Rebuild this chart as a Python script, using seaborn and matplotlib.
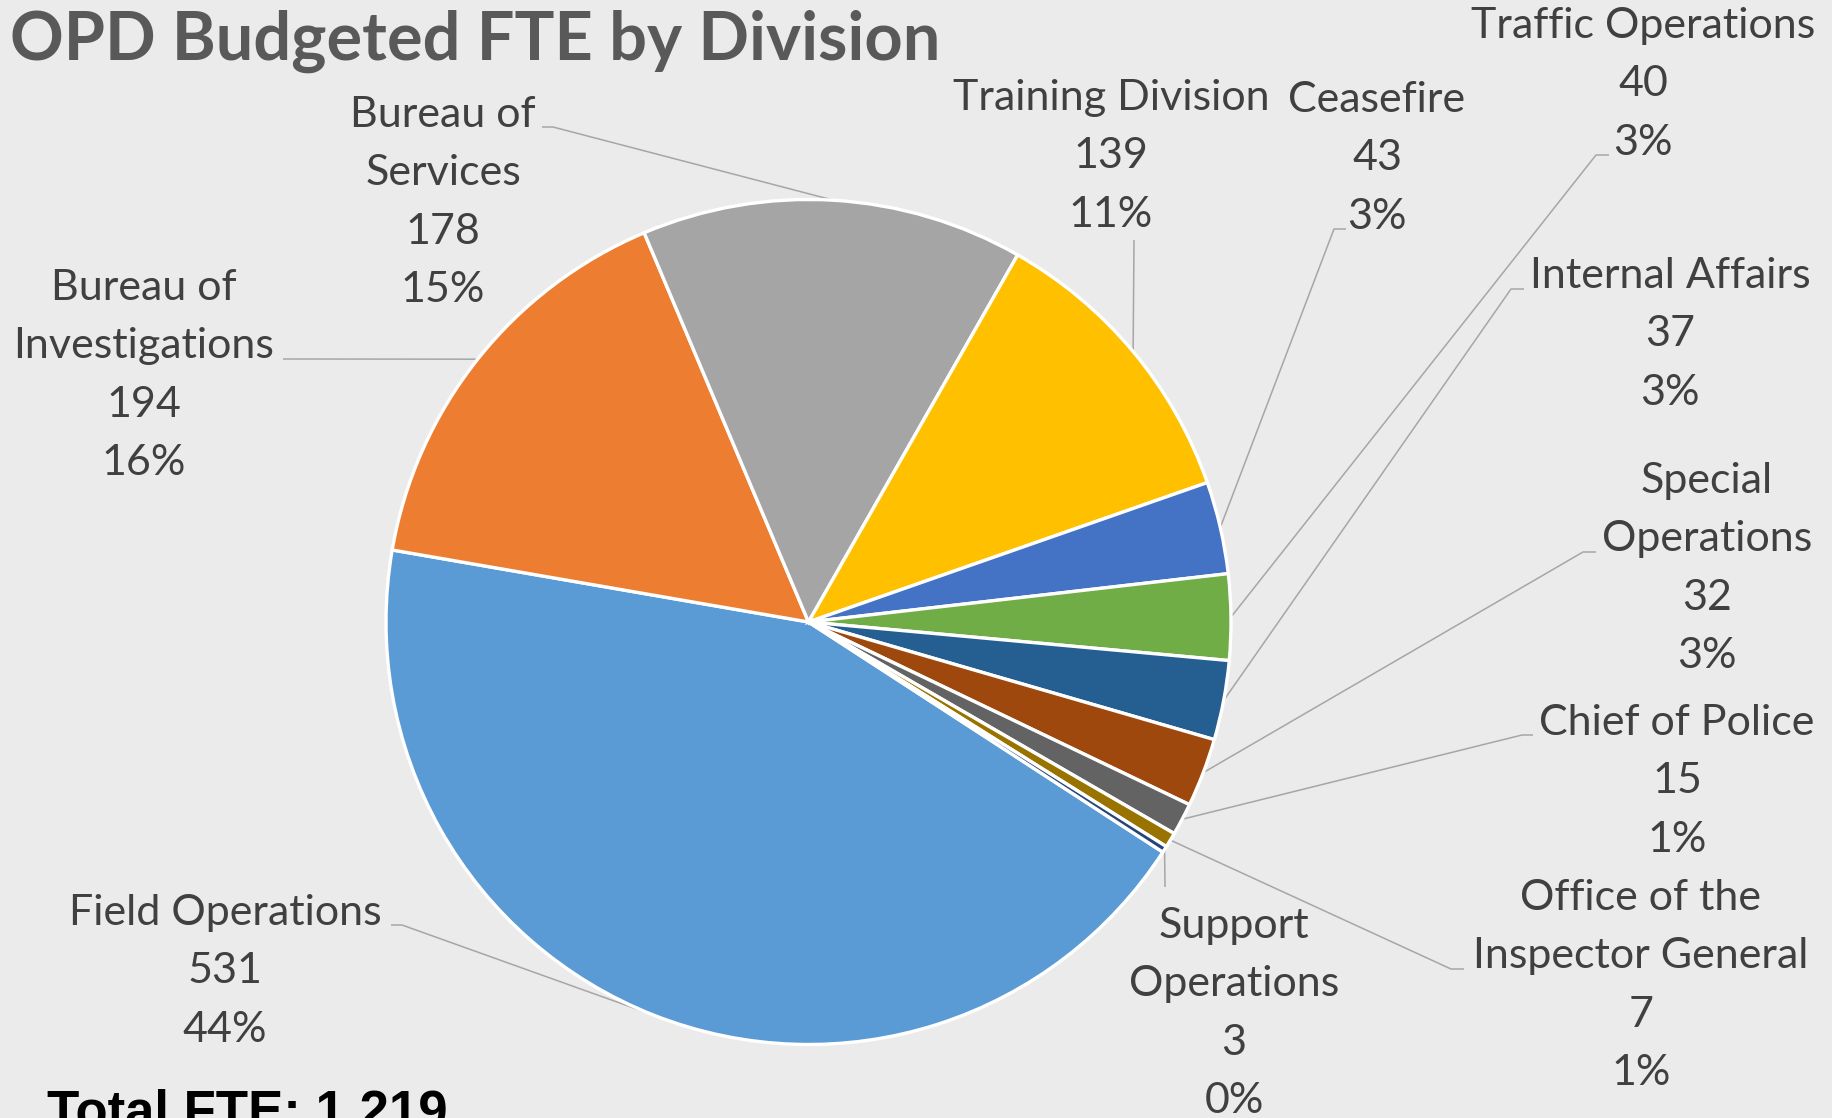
import numpy as np
import matplotlib
matplotlib.use("Agg")
import matplotlib.pyplot as plt
import seaborn as sns

# data
divisions = ["Field Operations", "Bureau of\nInvestigations", "Bureau of\nServices",
             "Training Division", "Ceasefire", "Traffic Operations", "Internal Affairs",
             "Special\nOperations", "Chief of Police", "Office of the\nInspector General",
             "Support\nOperations"]
fte = [531, 194, 178, 139, 43, 40, 37, 32, 15, 7, 3]
pct_labels = ["44%", "16%", "15%", "11%", "3%", "3%", "3%", "3%", "1%", "1%", "0%"]
total_text = "Total FTE: 1,219"
title_text = "OPD Budgeted FTE by Division"

slice_colors = ["#5B9BD5", "#ED7D31", "#A5A5A5", "#FFC000", "#4472C4", "#70AD47",
                "#255E91", "#9E480E", "#636363", "#997300", "#264478"]

# label layout in pixels from the top-left corner
label_x = [225, 144, 443, 1111, 1377, 1643, 1670, 1707, 1677, 1641, 1234]
label_y = [925, 300, 127, 110, 112, 38, 288, 493, 735, 910, 938]  # first baseline
leader_elbow = [(402, 925), (294, 359), (553, 127), (1134, 240), (1334, 229), (1596, 155),
                (1511, 289), (1583, 552), (1522, 735), (1451, 969), (1165, 887)]
leader_end = [(391, 925), (283, 359), (542, 127), (1134, 240), (1346, 229), (1609, 155),
              (1524, 289), (1596, 552), (1533, 735), (1464, 969), (1165, 887)]

W, H = 1833, 1118
bg = "#EBEBEB"
text_color = "#404040"
line_step = 58.3

sns.set_style("white", {"axes.facecolor": bg, "figure.facecolor": bg})
plt.rcParams["font.family"] = ["Lato", "DejaVu Sans"]

fig = plt.figure(figsize=(W / 100, H / 100), dpi=100)
ax = fig.add_axes([0, 0, 1, 1])

cx, cy, r = 808.5, H - 622, 422.5
wedges, _ = ax.pie(fte, colors=sns.color_palette(slice_colors), startangle=-33,
                   counterclock=False, center=(cx, cy), radius=r,
                   wedgeprops=dict(edgecolor="white", linewidth=2.4))

for w, name, val, pct, x0, y0, elb, end in zip(wedges, divisions, fte, pct_labels,
                                                 label_x, label_y, leader_elbow, leader_end):
    th = np.deg2rad((w.theta1 + w.theta2) / 2)
    px, py = cx + r * np.cos(th), cy + r * np.sin(th)
    ax.plot([px, elb[0], end[0]], [py, H - elb[1], H - end[1]],
            color="#A6A6A6", lw=1.1, zorder=0.5, solid_capstyle="butt")
    lines = name.split("\n") + [str(val), pct]
    for i, line in enumerate(lines):
        ax.text(x0, H - (y0 + i * line_step), line, ha="center", va="baseline",
                fontsize=31, color=text_color)

ax.text(10, H - 60, title_text, ha="left", va="baseline", fontsize=48,
        fontweight="bold", color="#595959")
ax.text(47, H - 1127, total_text, ha="left", va="baseline", fontsize=38,
        fontweight="bold", color="black", family=["Liberation Sans", "DejaVu Sans"])

ax.set_xlim(0, W)
ax.set_ylim(0, H)
ax.set_aspect("auto")
ax.axis("off")

plt.savefig("out.png", dpi=100, facecolor=bg)
plt.close("all")
